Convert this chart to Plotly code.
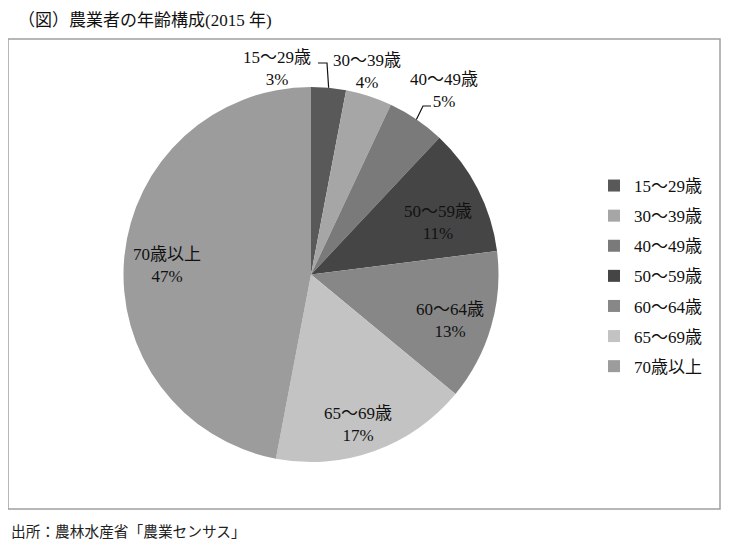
import math
import plotly.graph_objects as go

labels = ["15～29歳", "30～39歳", "40～49歳", "50～59歳", "60～64歳", "65～69歳", "70歳以上"]
shares = [3, 4, 5, 11, 13, 17, 47]
colors = ["#595959", "#a6a6a6", "#7a7a7a", "#454545", "#878787", "#c3c3c3", "#9c9c9c"]

# the page body has an 8px margin, so the figure is laid out in reference pixels minus 8
OFF = 8
W, H = 717, 535


def px(x):
    return (x - OFF) / W


def py(y):
    return 1 - (y - OFF) / H


serif = "Liberation Serif, Noto Sans CJK JP, serif"
sans = "Noto Sans CJK JP, sans-serif"

# pie geometry (reference pixels)
cx, cy, r = 311, 274.5, 187.5
# where each data label sits (reference pixels, centre of the two-line block)
label_xy = [(277, 68), (367, 72), (444, 91), (438, 222), (450, 320), (358, 424), (167, 265)]
# elbow of the leader line (start, bend) for labels placed outside the pie
leaders = {0: [(318, 63), (327, 63)], 2: [(431, 106), (423, 106)]}

fig = go.Figure()

fig.add_trace(go.Pie(
    labels=labels, values=shares, textinfo="none",
    sort=False, direction="clockwise", rotation=0,
    marker=dict(colors=colors, line=dict(width=0)),
    domain=dict(x=[px(cx - r), px(cx + r)], y=[py(cy + r), py(cy - r)]),
    showlegend=False, automargin=False, hoverinfo="label+percent",
))

# legend entries drawn as empty scatter traces so their spacing can be set
for lab, col in zip(labels, colors):
    fig.add_trace(go.Scatter(
        x=[None], y=[None], mode="markers", name=lab, legendgroup=lab,
        marker=dict(symbol="square", size=8, color=col),
    ))

annotations = [
    dict(text="（図）農業者の年齢構成(2015 年)", x=px(16), y=py(21),
         xref="paper", yref="paper", xanchor="left", yanchor="middle",
         showarrow=False, font=dict(family=serif, size=17, color="#111111")),
    dict(text="出所：農林水産省「農業センサス」", x=px(9), y=py(530),
         xref="paper", yref="paper", xanchor="left", yanchor="middle",
         showarrow=False, font=dict(family=sans, size=14.7, color="#222222")),
]
for lab, v, (lx, ly) in zip(labels, shares, label_xy):
    annotations.append(dict(
        text=f"{lab}<br>{v}%", x=px(lx), y=py(ly), xref="paper", yref="paper",
        xanchor="center", yanchor="middle", showarrow=False, align="center",
        font=dict(family=serif, size=17, color="#111111")))

shapes = [dict(type="rect", xref="paper", yref="paper",
               x0=px(8), x1=px(720), y0=py(509), y1=py(39),
               line=dict(color="#a0a0a0", width=1.5))]

total = sum(shares)
cum = 0
for i, v in enumerate(shares):
    mid = 2 * math.pi * (cum + v / 2) / total
    cum += v
    if i not in leaders:
        continue
    ex, ey = cx + r * math.sin(mid), cy - r * math.cos(mid)
    (sx, sy), (bx, by) = leaders[i]
    path = f"M {px(sx)},{py(sy)} L {px(bx)},{py(by)} L {px(ex)},{py(ey)}"
    shapes.append(dict(type="path", xref="paper", yref="paper", path=path,
                       line=dict(color="#111111", width=1.2)))

fig.update_layout(
    width=W, height=H,
    margin=dict(l=0, r=0, t=0, b=0),
    paper_bgcolor="white", plot_bgcolor="white",
    xaxis=dict(visible=False), yaxis=dict(visible=False),
    legend=dict(x=px(594), y=py(168), xanchor="left", yanchor="top",
                font=dict(family=serif, size=17, color="#111111"),
                tracegroupgap=5, itemsizing="constant", bgcolor="rgba(0,0,0,0)"),
    shapes=shapes,
    annotations=annotations,
)

fig.write_html("out.html")
